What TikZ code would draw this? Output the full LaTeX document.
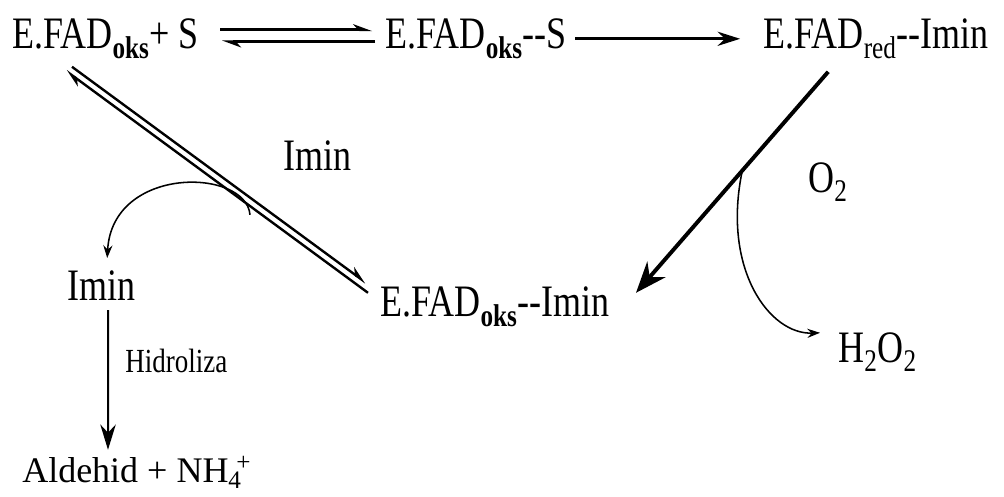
\documentclass[tikz,border=0pt]{standalone}
\usepackage{fontspec}
\setmainfont{Liberation Serif}
\newfontfamily\narrowserif[FakeStretch=0.8]{Liberation Serif}
\usetikzlibrary{arrows.meta}

\begin{document}
\begin{tikzpicture}[species/.style={inner sep=0pt,anchor=base west,font=\narrowserif\fontsize{32}{38}\selectfont},
  note/.style={inner sep=0pt,anchor=base west,font=\narrowserif\fontsize{24}{28}\selectfont},
  product/.style={inner sep=0pt,anchor=base west,font=\fontsize{25.6}{30}\selectfont},
  harp/.style={line width=#1,-{Stealth[left,length=11pt,width=8pt]}},
  react/.style={line width=#1,-{Stealth[length=16pt,width=10pt]}},
  curly/.style={line width=1.1pt,-{Stealth[length=9pt,width=6.5pt,inset=3pt]}}]
\useasboundingbox (0,0) rectangle (25.1,12.4);
% species
\node[species] (a) at (0.3,11.18) {E.FAD\textsubscript{\textbf{oks}}+ S};
\node[species] (b) at (9.63,11.18) {E.FAD\textsubscript{\textbf{oks}}-{}-S};
\node[species] (c) at (19.08,11.18) {E.FAD\textsubscript{red}-{}-Imin};
\node[species] (m) at (9.5,4.48) {E.FAD\textsubscript{\textbf{oks}}-{}-Imin};
\node[species] (i1) at (7.08,8.15) {Imin};
\node[species] (i2) at (1.68,4.9) {Imin};
\node[species] (o) at (20.2,7.58) {O\textsubscript{2}};
\node[species] (h) at (20.95,3.33) {H\textsubscript{2}O\textsubscript{2}};
\node[note] (hy) at (3.13,3.1) {Hidroliza};
\node[product] (al) at (0.55,0.33) {Aldehid + NH\textsubscript{4}\hspace{-0.15em}\textsuperscript{+}};
% equilibrium
\draw[harp=2.2pt] ([shift={(5.2,0.475)}]a.base west) -- ([shift={(-0.325,0.475)}]b.base west);
\draw[harp=2.2pt] ([shift={(-0.25,0.175)}]b.base west) -- ([shift={(5.25,0.175)}]a.base west);
\draw[react=2.4pt] ([shift={(4.75,0.25)}]b.base west) -- ([shift={(-0.575,0.25)}]c.base west);
\draw[line width=2.8pt,-{Stealth[length=22pt,width=17pt]}] ([shift={(1.625,-0.575)}]c.base west) -- ([shift={(6.4,0.6)}]m.base west);
\draw[harp=1.7pt] ([shift={(1.5,-0.45)}]a.base west) -- ([shift={(-0.35,0.85)}]m.base west);
\draw[harp=1.7pt] ([shift={(-0.3,0.6)}]m.base west) -- ([shift={(1.35,-0.55)}]a.base west);
% side paths
\coordinate (t1) at (6.25,7.03);
\coordinate (t2) at (18.55,8.1);
\draw[curly] (t1) .. controls +(-0.1,1.175) and +(0.125,2.325) .. ([shift={(1.0,1.05)}]i2.base west);
\draw[curly] (t2) .. controls +(-0.5,-2.45) and +(-1.25,-0.05) .. ([shift={(-0.45,0.75)}]h.base west);
\draw[line width=1.4pt,-{Stealth[length=18pt,width=11pt]}] ([shift={(1.025,-0.25)}]i2.base west) -- ([shift={(2.15,0.825)}]al.base west);
\end{tikzpicture}
\end{document}
